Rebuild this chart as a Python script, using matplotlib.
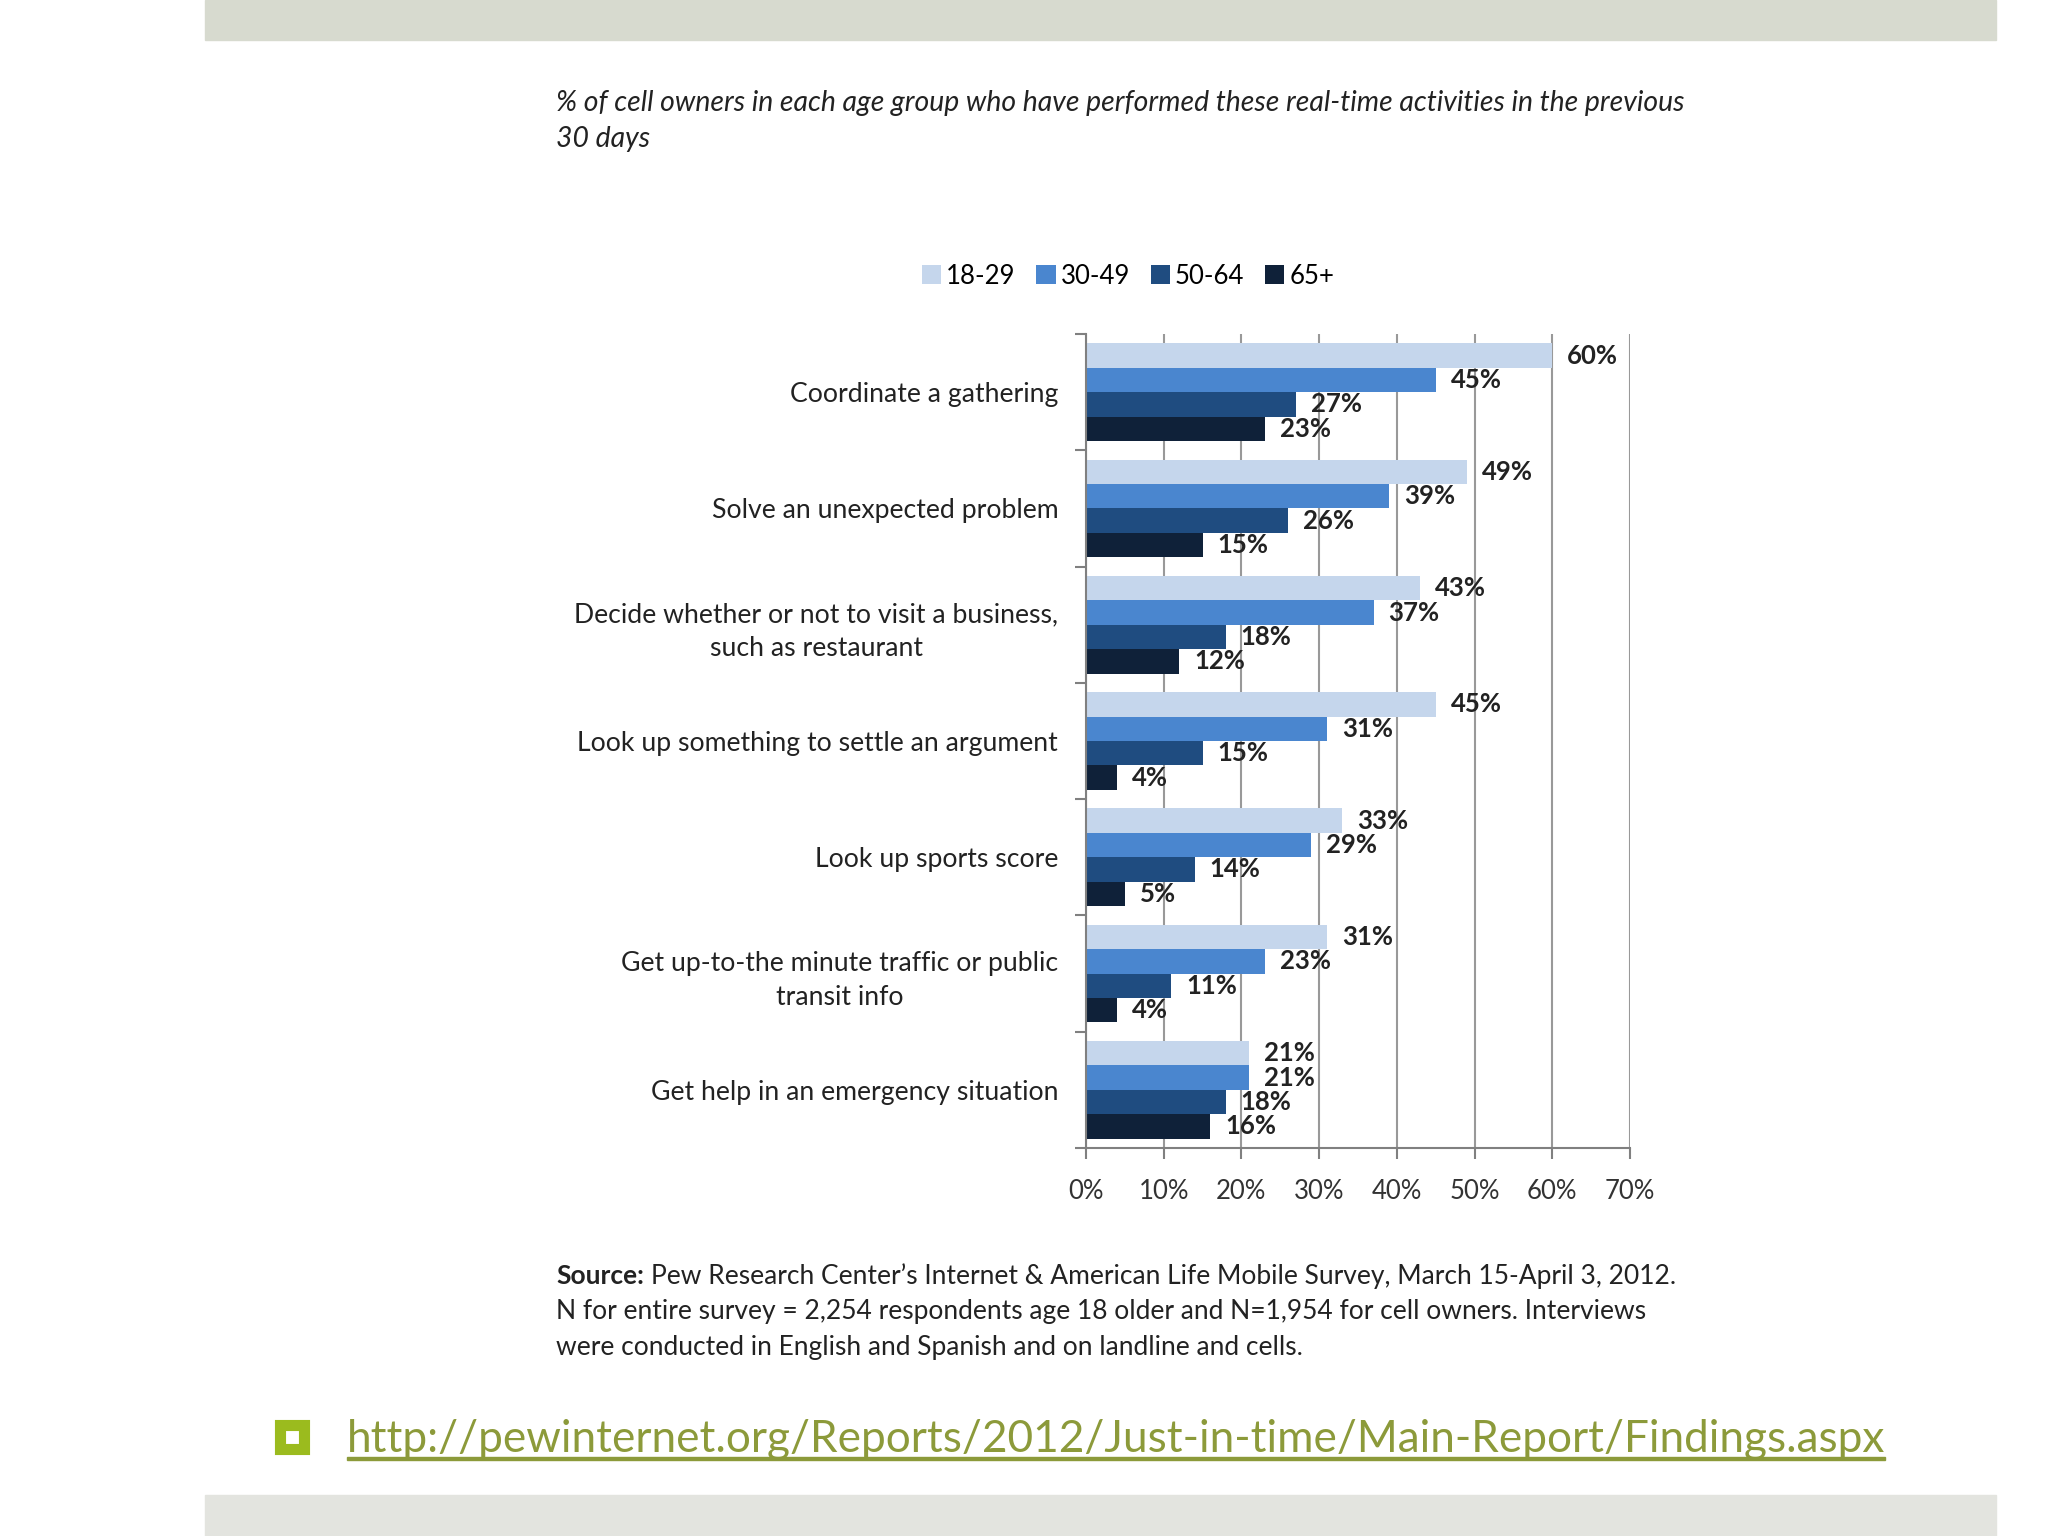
import numpy as np
import matplotlib.pyplot as plt
from matplotlib.patches import Rectangle

plt.rcParams['font.family'] = ['Lato', 'DejaVu Sans']

# ---- data ----
categories = [
    'Coordinate a gathering',
    'Solve an unexpected problem',
    'Decide whether or not to visit a business,\nsuch as restaurant',
    'Look up something to settle an argument',
    'Look up sports score',
    'Get up-to-the minute traffic or public\ntransit info',
    'Get help in an emergency situation',
]
age_groups = ['18-29', '30-49', '50-64', '65+']
v_18_29 = [60, 49, 43, 45, 33, 31, 21]
v_30_49 = [45, 39, 37, 31, 29, 23, 21]
v_50_64 = [27, 26, 18, 15, 14, 11, 18]
v_65 = [23, 15, 12, 4, 5, 4, 16]
xticks = [0, 10, 20, 30, 40, 50, 60, 70]

subtitle_lines = [
    '% of cell owners in each age group who have performed these real-time activities in the previous',
    '30 days',
]
source_rest = 'Pew Research Center\u2019s Internet & American Life Mobile Survey, March 15-April 3, 2012.'
source_lines = [
    'N for entire survey = 2,254 respondents age 18 older and N=1,954 for cell owners. Interviews',
    'were conducted in English and Spanish and on landline and cells.',
]
link = 'http://pewinternet.org/Reports/2012/Just-in-time/Main-Report/Findings.aspx'

series = [v_18_29, v_30_49, v_50_64, v_65]
colors = ['#c5d6ec', '#4a86cf', '#1f4c80', '#0f2139']

W, H = 2048, 1536
fig = plt.figure(figsize=(20.48, 15.36), dpi=100)
fig.patch.set_facecolor('white')

# top / bottom bands of the slide
fig.patches.append(Rectangle((205 / W, 1 - 40 / H), 1791 / W, 40 / H,
                             transform=fig.transFigure, color='#d7dacf', zorder=0))
fig.patches.append(Rectangle((205 / W, 0), 1791 / W, 41 / H,
                             transform=fig.transFigure, color='#e3e4df', zorder=0))

ax = fig.add_axes([1086 / W, 1 - 1148 / H, 544 / W, 814 / H])

bar_h = 0.21
n = len(categories)
for k, (vals, col, lab) in enumerate(zip(series, colors, age_groups)):
    y = np.arange(n) + 0.08 + bar_h * k + bar_h / 2
    ax.barh(y, vals, height=bar_h, color=col, label=lab, zorder=2)
    for yy, v in zip(y, vals):
        ax.text(v + 1.9, yy, f'{v}%', va='center', ha='left', fontsize=18.5,
                fontweight='bold', color='#222222', zorder=3)

ax.set_xlim(0, 70)
ax.set_ylim(n, 0)
ax.set_xticks(xticks)
ax.set_xticklabels([f'{t}%' for t in xticks], fontsize=18.5, color='#333333')
ax.set_yticks(np.arange(n + 1))
ax.set_yticklabels([])
ax.set_yticks(np.arange(n) + 0.5, minor=True)
ax.set_yticklabels(categories, minor=True, fontsize=19.2, color='#222222',
                   multialignment='center')
for lbl in ax.get_yticklabels(minor=True):
    lbl.set_linespacing(1.45)
ax.tick_params(axis='y', which='minor', length=0, pad=20)
ax.tick_params(axis='y', which='major', length=8, width=1.5, color='#808080')
ax.tick_params(axis='x', length=8, width=1.5, color='#808080', pad=14)

ax.grid(axis='x', color='#999999', linewidth=1.5, zorder=0)
ax.set_axisbelow(True)
for s in ['top', 'right']:
    ax.spines[s].set_visible(False)
for s in ['left', 'bottom']:
    ax.spines[s].set_color('#808080')
    ax.spines[s].set_linewidth(1.5)

fig.legend(loc='center', bbox_to_anchor=(1128 / W, 1 - 276 / H), ncol=4,
           frameon=False, fontsize=18.5, handlelength=0.75, handleheight=0.75,
           handletextpad=0.2, columnspacing=0.8)

# subtitle
for yy, line in zip([103, 139], subtitle_lines):
    fig.text(556 / W, 1 - yy / H, line, ha='left', va='center', fontsize=20.4,
             style='italic', color='#222222')

# source note
src = fig.text(556 / W, 1 - 1276 / H, 'Source:', ha='left', va='center',
               fontsize=19, fontweight='bold', color='#222222')
ax.annotate(source_rest, xy=(1, 0.5), xycoords=src, xytext=(5, 0),
            textcoords='offset points', ha='left', va='center', fontsize=19,
            color='#222222', annotation_clip=False)
for yy, line in zip([1311, 1347], source_lines):
    fig.text(556 / W, 1 - yy / H, line, ha='left', va='center', fontsize=19,
             color='#222222')

# bullet + link
fig.patches.append(Rectangle((280 / W, 1 - 1449 / H), 24 / W, 24 / H,
                             transform=fig.transFigure, facecolor='white',
                             edgecolor='#9bbb1e', linewidth=8, zorder=3))
fig.text(347 / W, 1 - 1440 / H, link, ha='left', va='center', fontsize=31.8,
         color='#8c9a3a')
fig.patches.append(Rectangle((347 / W, 1 - 1460 / H), 1538 / W, 3 / H,
                             transform=fig.transFigure, color='#8c9a3a', zorder=3))

fig.savefig('out.png', dpi=100)
